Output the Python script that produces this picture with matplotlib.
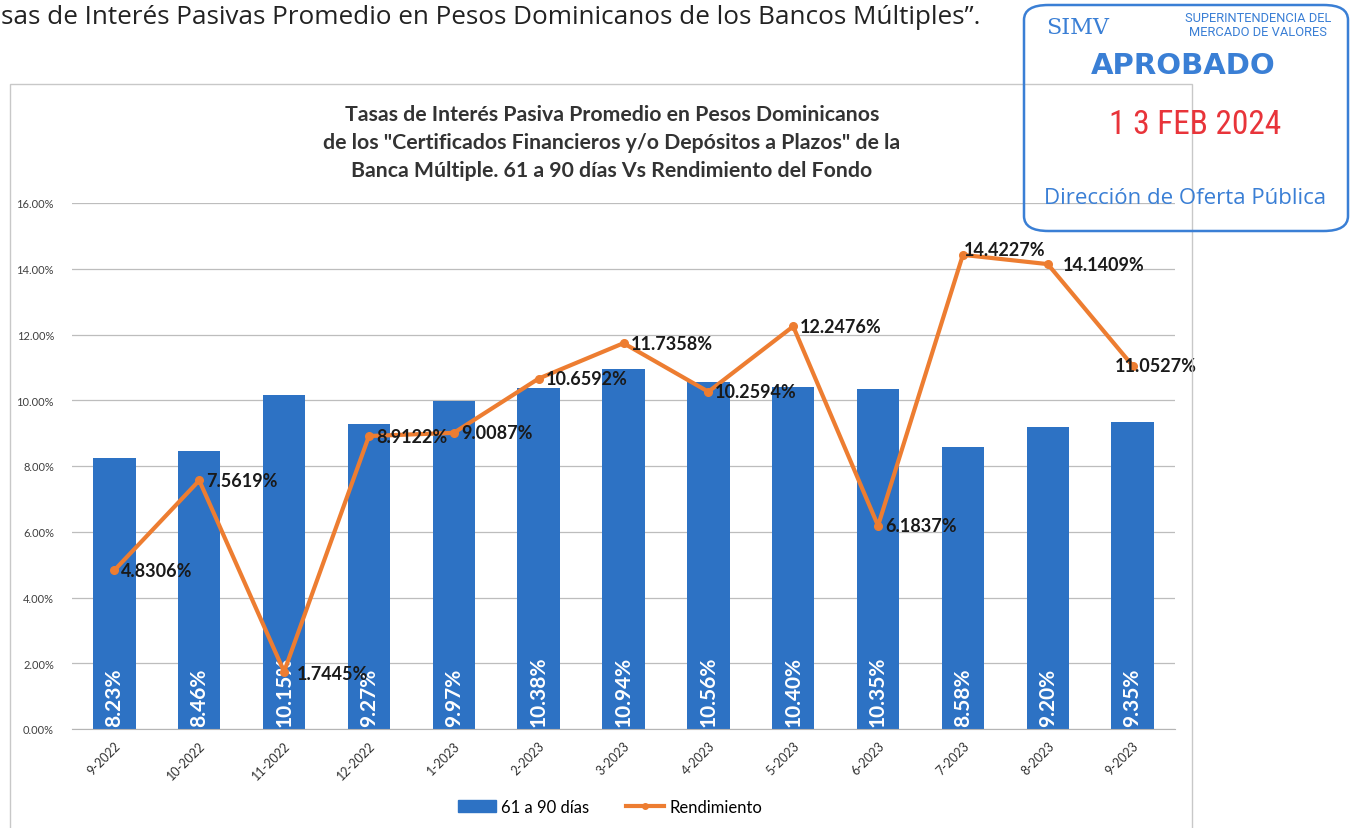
import matplotlib
matplotlib.use("Agg")
import matplotlib.pyplot as plt
from matplotlib import font_manager
from matplotlib.patches import Rectangle, FancyBboxPatch
from matplotlib.lines import Line2D
from matplotlib.ticker import PercentFormatter

plt.rcParams['font.family'] = ['Lato', 'DejaVu Sans']

# ---------------- data ----------------
months = ["9-2022", "10-2022", "11-2022", "12-2022", "1-2023", "2-2023", "3-2023",
          "4-2023", "5-2023", "6-2023", "7-2023", "8-2023", "9-2023"]
tasa_61_90 = [8.23, 8.46, 10.15, 9.27, 9.97, 10.38, 10.94, 10.56, 10.40, 10.35, 8.58, 9.20, 9.35]
rendimiento = [4.8306, 7.5619, 1.7445, 8.9122, 9.0087, 10.6592, 11.7358, 10.2594,
               12.2476, 6.1837, 14.4227, 14.1409, 11.0527]
y_ticks = [0, 2, 4, 6, 8, 10, 12, 14, 16]

# label offsets (points) for line labels - style only
lbl_off = [(5, 0)] * 13
lbl_off = list(lbl_off)
lbl_off[2] = (9, -1)
lbl_off[10] = (1, 4)
lbl_off[11] = (11, 0)
lbl_off[12] = (-13, 0)

BLUE = "#2D72C4"
ORANGE = "#ED7D31"


def pick_font(cands):
    for c in cands:
        try:
            font_manager.findfont(font_manager.FontProperties(family=c),
                                  fallback_to_default=False)
            return c
        except Exception:
            pass
    return 'DejaVu Sans'


NARROW = pick_font(['Liberation Sans Narrow', 'Roboto Condensed', 'Open Sans Condensed',
                    'DejaVu Sans Condensed', 'Roboto'])

fig = plt.figure(figsize=(13.58, 8.29), dpi=100)
W, H = 1358, 829


def fx(px):
    return px / W


def fy(py):
    return 1 - py / H


# chart frame
fig.patches.append(Rectangle((fx(10), fy(840)), fx(1192) - fx(10), fy(85) - fy(840),
                             transform=fig.transFigure, fill=False,
                             edgecolor="#c8c8c8", lw=1.0))

ax = fig.add_axes([fx(72), fy(730), fx(1175) - fx(72), fy(204) - fy(730)])
x = list(range(len(months)))
ax.bar(x, tasa_61_90, width=0.5, color=BLUE, zorder=2, label="61 a 90 días")
ax.set_xlim(-0.5, len(months) - 0.5)
ax.set_ylim(0, 16)
ax.set_yticks(y_ticks)
ax.yaxis.set_major_formatter(PercentFormatter(decimals=2))
ax.grid(axis='y', color="#bdbdbd", lw=0.9, zorder=0)
for s in ["top", "right", "left"]:
    ax.spines[s].set_visible(False)
ax.spines["bottom"].set_color("#b5b5b5")
ax.tick_params(axis='y', length=0, labelsize=8, labelcolor="#404040", pad=13)
ax.tick_params(axis='x', length=0, labelsize=9, labelcolor="#303030", pad=7)
ax.set_xticks(x)
ax.set_xticklabels(months, rotation=45, ha='right', rotation_mode='anchor')

for xi, v in zip(x, tasa_61_90):
    ax.text(xi, 0.08, f"{v:.2f}%", rotation=90, ha='center', va='bottom',
            color='white', fontsize=15, fontweight='bold', zorder=4)

ax.plot(x, rendimiento, color=ORANGE, lw=3, marker='o', markersize=5.5,
        zorder=5, label="Rendimiento")
for xi, v, off in zip(x, rendimiento, lbl_off):
    ax.annotate(f"{v:.4f}%", (xi, v), xytext=off, textcoords='offset points',
                ha='left', va='center', fontsize=13, fontweight='bold',
                color='#1a1a1a', zorder=6)

# title
fig.text(fx(612), fy(143),
         "Tasas de Interés Pasiva Promedio en Pesos Dominicanos\n"
         "de los \"Certificados Financieros y/o Depósitos a Plazos\" de la\n"
         "Banca Múltiple. 61 a 90 días Vs Rendimiento del Fondo",
         ha='center', va='center', fontsize=15.3, fontweight='bold',
         color='#333333', linespacing=1.48)

# legend
handles = [Rectangle((0, 0), 1, 1, color=BLUE),
           Line2D([0], [0], color=ORANGE, lw=3, marker='o', markersize=4)]
fig.legend(handles, ["61 a 90 días", "Rendimiento"], loc='center',
           bbox_to_anchor=(fx(610), fy(808)), ncol=2, frameon=False,
           fontsize=12, handlelength=2.3, columnspacing=2.2, handletextpad=0.3)

# header text from document
fig.text(fx(1), fy(18), "sas de Interés Pasivas Promedio en Pesos Dominicanos de los Bancos Múltiples”.",
         ha='left', va='center', fontsize=18.8, color='#222222', family=['Open Sans', 'DejaVu Sans'])

# approval stamp
STAMP = "#3a7fd5"
fig.patches.append(FancyBboxPatch((fx(1024), fy(232)), fx(1348) - fx(1024), fy(6) - fy(232),
                                  boxstyle="round,pad=0,rounding_size=0.018",
                                  transform=fig.transFigure, fill=False,
                                  edgecolor=STAMP, lw=1.8))
fig.text(fx(1078), fy(28), "SIMV", ha='center', va='center', fontsize=16,
         color=STAMP, family=['DejaVu Serif'])
fig.text(fx(1258), fy(25), "SUPERINTENDENCIA DEL\nMERCADO DE VALORES", ha='center',
         va='center', fontsize=9.3, color=STAMP, linespacing=1.1,
         family=['Roboto', 'DejaVu Sans'])
fig.text(fx(1183), fy(66), "APROBADO", ha='center', va='center', fontsize=21,
         fontweight='bold', color=STAMP, family=['DejaVu Sans'])
fig.text(fx(1195), fy(125), "1 3 FEB 2024", ha='center', va='center', fontsize=24,
         color="#e8343a", family=[NARROW, 'DejaVu Sans'])
fig.text(fx(1185), fy(198), "Dirección de Oferta Pública", ha='center', va='center',
         fontsize=16, color=STAMP, family=['Open Sans', 'DejaVu Sans'])

fig.savefig("out.png", dpi=100)
